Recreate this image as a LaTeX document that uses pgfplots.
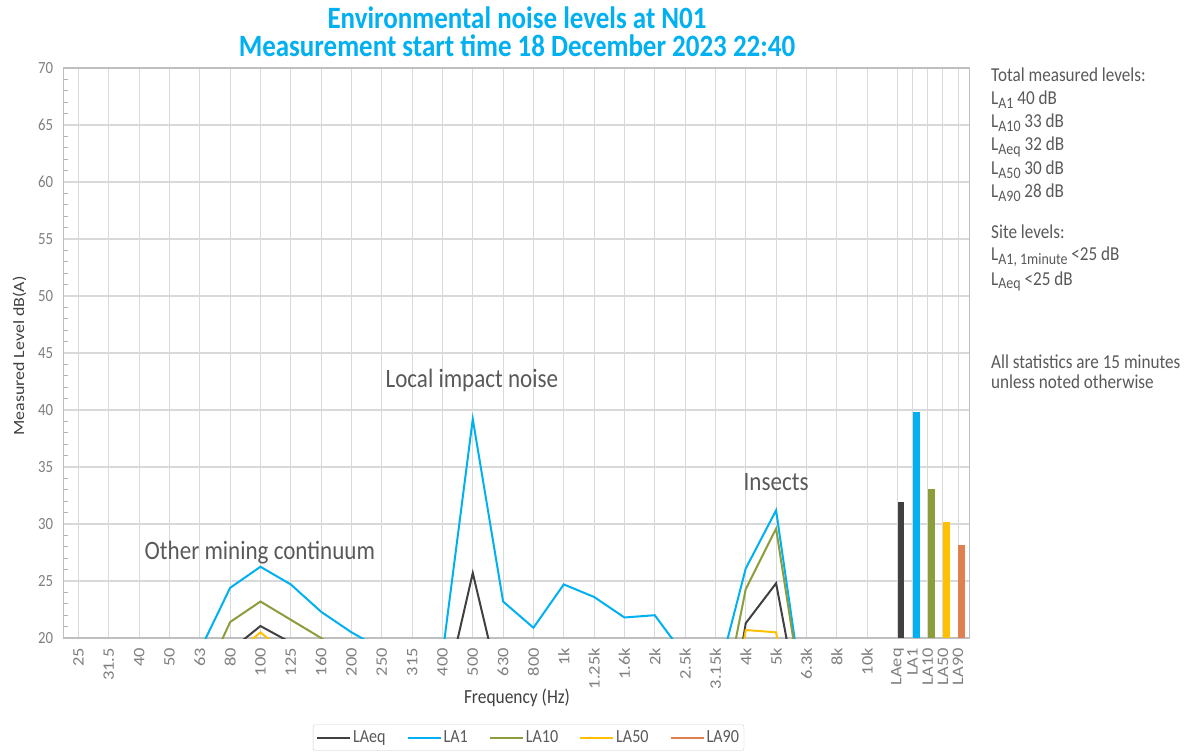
\documentclass[border=0pt]{standalone}
\usepackage{fontspec}
\setmainfont{Carlito}[FakeStretch=0.87]
\newfontfamily\rotfont{Carlito}[FakeStretch=1.15]
\usepackage{pgfplots}
\usepackage{pgfplotstable}
\pgfplotsset{compat=1.18}
\definecolor{cLAeq}{HTML}{404040}
\definecolor{cLA1}{HTML}{00B0F0}
\definecolor{cLA10}{HTML}{8C9D3B}
\definecolor{cLA50}{HTML}{FFC000}
\definecolor{cLA90}{HTML}{E08050}
\definecolor{txt}{HTML}{595959}
\definecolor{ticktxt}{HTML}{7F7F7F}
\definecolor{labtxt}{HTML}{404040}
\newcommand\sub[1]{\raisebox{-3.5pt}{\fontsize{16}{16}\selectfont #1}}

\pgfplotstableread{
x LAeq LA1 LA10 LA50 LA90
0 12 14 12 10 9
1 12 14 12 10 9
2 13 15 13 11 10
3 13 16 13 11 10
4 15 18.9 15.6 13 12
5 18.9 24.4 21.4 18.2 16
6 21.05 26.25 23.2 20.5 17.5
7 19.6 24.7 21.6 18.3 16.5
8 18 22.3 20.0 16 15
9 16 20.5 18 14 13
10 15 19.0 16.5 13 12
11 14 17.5 15.5 12.5 11
12 14.1 18.5 16 13 12
13 25.7 39.2 19 17 15
14 14.5 23.2 17 14 12
15 13 20.9 16 13 11
16 14 24.7 17 14 12
17 13.5 23.6 16.5 13.5 11.5
18 13 21.8 15.5 13 11
19 13 22.0 15.5 13 11
20 12 18.4 14 12 10
21 5 15.8 10.9 5 8
22 21.3 26.1 24.3 20.7 17
23 24.8 31.2 29.6 20.5 17.5
24 10.7 12.8 12.5 5 8
25 9 11 10 8 7
26 8 10 9 7 6
}\spectrum

\pgfplotstableread{
x val
27.12 31.95
27.62 39.85
28.12 33.05
28.62 30.2
29.12 28.2
}\totals

\begin{document}
\begin{tikzpicture}
\path[use as bounding box] (0pt,0pt) rectangle (1194pt,-754pt);
\begin{axis}[
  at={(63.3pt,-638pt)}, anchor=south west,
  scale only axis, width=906pt, height=570pt,
  xmin=-0.5, xmax=29.37, ymin=20, ymax=70,
  xtick={0,1,2,3,4,5,6,7,8,9,10,11,12,13,14,15,16,17,18,19,20,21,22,23,24,25,26,27,27.5,28,28.5,29},
  xticklabels={25,31.5,40,50,63,80,100,125,160,200,250,315,400,500,630,800,1k,1.25k,1.6k,2k,2.5k,3.15k,4k,5k,6.3k,8k,10k,LAeq,LA1,LA10,LA50,LA90},
  ytick={20,25,...,70},
  minor y tick num=4,
  grid=major,
  major grid style={draw=black!15, line width=1.1pt},
  axis line style={draw=black!25, line width=1.1pt},
  tick align=inside, tick pos=left,
  major tick length=0pt, minor tick length=5pt,
  minor tick style={draw=black!30, line width=0.9pt},
  /pgf/number format/assume math mode=true,
  yticklabel style={font=\fontsize{17}{17}\selectfont, text=ticktxt, anchor=east, inner xsep=10pt, inner ysep=0pt},
  xticklabel style={font=\rotfont\fontsize{16}{16}\selectfont, text=ticktxt, rotate=90, anchor=east, inner xsep=10pt, inner ysep=0pt},
  legend columns=5,
  legend style={at={(0.5135,-0.1746)}, anchor=center, draw=black!20, rounded corners=2pt,
    font=\fontsize{18.5}{18.5}\selectfont, text=txt, inner xsep=3pt, inner ysep=4pt,
    nodes={inner xsep=2pt, inner ysep=2pt},
    /tikz/every even column/.append style={column sep=19pt}},
  legend image code/.code={\draw[#1] (0pt,0pt) -- (33pt,0pt);},
  every axis plot/.append style={line width=2pt},
]
\addplot[color=cLAeq] table[x=x, y=LAeq] {\spectrum};
\addlegendentry{LAeq}
\addplot[color=cLA1] table[x=x, y=LA1] {\spectrum};
\addlegendentry{LA1}
\addplot[color=cLA10] table[x=x, y=LA10] {\spectrum};
\addlegendentry{LA10}
\addplot[color=cLA50] table[x=x, y=LA50] {\spectrum};
\addlegendentry{LA50}
\addplot[color=cLA90] table[x=x, y=LA90] {\spectrum};
\addlegendentry{LA90}

\addplot[ybar, bar width=6.8pt, bar shift=0pt, fill=cLAeq, draw=none, forget plot] table[x=x, y=val, skip coords between index={1}{5}] {\totals};
\addplot[ybar, bar width=6.8pt, bar shift=0pt, fill=cLA1, draw=none, forget plot] table[x=x, y=val, skip coords between index={0}{1}, skip coords between index={2}{5}] {\totals};
\addplot[ybar, bar width=6.8pt, bar shift=0pt, fill=cLA10, draw=none, forget plot] table[x=x, y=val, skip coords between index={0}{2}, skip coords between index={3}{5}] {\totals};
\addplot[ybar, bar width=6.8pt, bar shift=0pt, fill=cLA50, draw=none, forget plot] table[x=x, y=val, skip coords between index={0}{3}, skip coords between index={4}{5}] {\totals};
\addplot[ybar, bar width=6.8pt, bar shift=0pt, fill=cLA90, draw=none, forget plot] table[x=x, y=val, skip coords between index={0}{4}] {\totals};

\node[anchor=base, font=\fontsize{26.5}{27}\selectfont, text=txt] at (axis cs:5.98,26.87) {Other mining continuum};
\node[anchor=base, font=\fontsize{26.5}{27}\selectfont, text=txt] at (axis cs:12.97,41.93) {Local impact noise};
\node[anchor=base, font=\fontsize{26.5}{27}\selectfont, text=txt] at (axis cs:23.0,32.98) {Insects};
\end{axis}

\node[anchor=base, text=cLA1, font=\fontsize{31}{31}\selectfont\bfseries] at (517pt,-29pt) {Environmental noise levels at N01};
\node[anchor=base, text=cLA1, font=\fontsize{31}{31}\selectfont\bfseries] at (517pt,-57pt) {Measurement start time 18 December 2023 22:40};

\node[rotate=90, anchor=base, inner sep=0pt, font=\rotfont\fontsize{15.6}{16}\selectfont, text=labtxt] at (24pt,-356pt) {Measured Level dB(A)};
\node[anchor=base, inner sep=0pt, font=\fontsize{20}{20}\selectfont, text=labtxt] at (517pt,-703pt) {Frequency (Hz)};

\begin{scope}[every node/.style={anchor=base west, inner sep=0pt, text=txt, font=\fontsize{19.7}{20}\selectfont}]
\node at (991pt,-82pt) {Total measured levels:};
\node at (991pt,-105pt) {L\sub{A1} 40 dB};
\node at (991pt,-128pt) {L\sub{A10} 33 dB};
\node at (991pt,-151pt) {L\sub{Aeq} 32 dB};
\node at (991pt,-175pt) {L\sub{A50} 30 dB};
\node at (991pt,-198pt) {L\sub{A90} 28 dB};
\node at (991pt,-238pt) {Site levels:};
\node at (991pt,-261pt) {L\sub{A1, 1minute} <25 dB};
\node at (991pt,-285pt) {L\sub{Aeq} <25 dB};
\node at (991pt,-368pt) {All statistics are 15 minutes};
\node at (991pt,-388pt) {unless noted otherwise};
\end{scope}
\end{tikzpicture}
\end{document}
